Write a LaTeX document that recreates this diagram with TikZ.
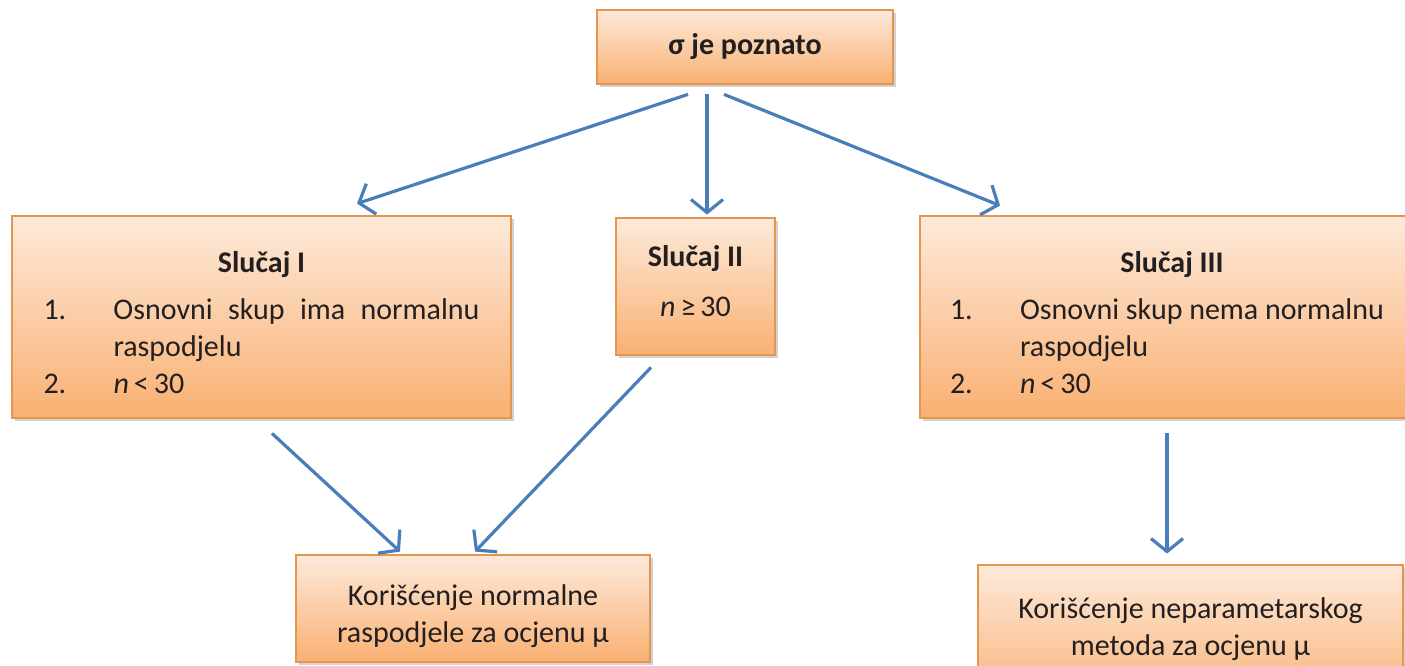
\documentclass[tikz,border=0pt]{standalone}
\usepackage{fontspec}
\setmainfont{Carlito}
\usetikzlibrary{arrows.meta,shadows}
\definecolor{arrowblue}{RGB}{74,126,187}
\definecolor{boxedge}{RGB}{228,150,80}
\definecolor{boxtop}{RGB}{253,234,218}
\definecolor{boxbot}{RGB}{249,176,114}
\definecolor{txt}{RGB}{35,31,32}
\newcommand{\itemline}[2]{\noindent\hangindent=70pt\hangafter=1\makebox[70pt][l]{#1}#2\par}
\begin{document}
\begin{tikzpicture}[x=1pt,y=-1pt,
  orangebox/.style={draw=boxedge, line width=2.8pt, top color=boxtop, bottom color=boxbot,
    rectangle, inner sep=0pt, font=\fontsize{30}{37}\selectfont, text=txt,
    drop shadow={shadow xshift=3pt,shadow yshift=-3pt,opacity=0.25,fill=black!70}},
  conn/.style={draw=arrowblue, line width=3.2pt, -{Straight Barb[length=13pt,width=32pt]}}]
\useasboundingbox[fill=white] (0,0) rectangle (1405,666);

\node[orangebox, minimum width=296pt, minimum height=74pt] (top) at (745,47) {\bfseries σ je poznato};

\node[orangebox, minimum width=499pt, minimum height=202pt] (c1) at (261.5,317) {\parbox{436pt}{%
  \vspace*{12pt}%
  \centerline{\bfseries Slučaj I}\vspace{10pt}%
  \itemline{1.}{Osnovni skup ima normalnu raspodjelu}%
  \itemline{2.}{\textit{n}\,<\,30}}};

\node[orangebox, minimum width=159pt, minimum height=137pt] (c2) at (695.5,286.5) {\parbox{159pt}{\centering
  \textbf{Slučaj II}\par\vspace{13pt}\textit{n}\,≥\,30\par\vspace*{10pt}}};

\node[orangebox, minimum width=504pt, minimum height=202pt] (c3) at (1172,317) {\parbox{444pt}{\raggedright
  \vspace*{12pt}%
  \centerline{\bfseries Slučaj III}\vspace{10pt}%
  \itemline{1.}{Osnovni skup nema normalnu raspodjelu}%
  \itemline{2.}{\textit{n}\,<\,30}}};

\node[orangebox, minimum width=354pt, minimum height=107pt] (b1) at (473,608.5)
  {\parbox{354pt}{\centering\vspace*{16pt}Korišćenje normalne\\raspodjele za ocjenu μ}};

\node[orangebox, minimum width=425pt, minimum height=144pt] (b2) at (1190.5,637)
  {\parbox{425pt}{\centering Korišćenje neparametarskog\\metoda za ocjenu μ\par\vspace*{16pt}}};

\draw[conn] ([xshift=-57pt,yshift=-9pt]top.south) -- ([xshift=95.5pt,yshift=11pt]c1.north);
\draw[conn] ([xshift=-38pt,yshift=-9pt]top.south) -- ([xshift=11.5pt,yshift=2pt]c2.north);
\draw[conn] ([xshift=-21pt,yshift=-9pt]top.south) -- ([xshift=-172pt,yshift=9pt]c3.north);
\draw[conn] ([xshift=10.5pt,yshift=-14pt]c1.south) -- ([xshift=-73pt,yshift=2pt]b1.north);
\draw[conn] ([xshift=-44.5pt,yshift=-11pt]c2.south) -- ([xshift=2pt,yshift=2pt]b1.north);
\draw[conn] ([xshift=-5pt,yshift=-14pt]c3.south) -- ([xshift=-23.5pt,yshift=10pt]b2.north);
\end{tikzpicture}
\end{document}
